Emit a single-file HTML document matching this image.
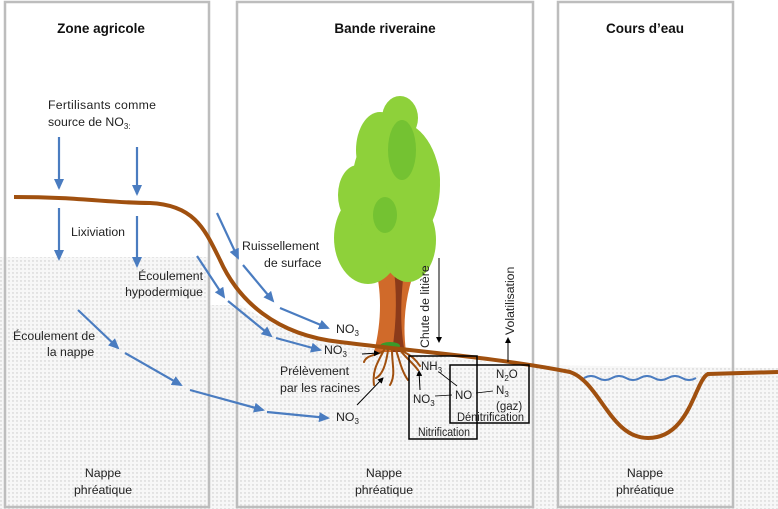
<!DOCTYPE html>
<html><head><meta charset="utf-8"><style>
html,body{margin:0;padding:0;background:#fff}
svg{display:block}
text{font-family:"Liberation Sans",sans-serif;font-size:12.3px;fill:#222}
.t{font-weight:bold;font-size:13.5px;fill:#111}
.b{font-size:11.5px}
</style></head><body>
<svg width="778" height="509" viewBox="0 0 778 509" xmlns="http://www.w3.org/2000/svg">
<defs>
<pattern id="dots" width="4" height="4" patternUnits="userSpaceOnUse">
<rect width="4" height="4" fill="#f7f7f7"/>
<circle cx="1" cy="1" r="0.7" fill="#c8c8c8"/>
</pattern>
<marker id="ab" markerWidth="11" markerHeight="10" refX="9" refY="5" orient="auto" markerUnits="userSpaceOnUse" viewBox="0 0 11 10"><path d="M0,0 L11,5 L0,10 z" fill="#4a7cc0"/></marker>
<marker id="ak" markerWidth="6" markerHeight="6" refX="5" refY="3" orient="auto" markerUnits="userSpaceOnUse" viewBox="0 0 6 6"><path d="M0,0 L6,3 L0,6 z" fill="#000"/></marker>
</defs>
<path d="M0,257 L210,257 L210,305 L240,305 C280,330 330,345 400,352 L520,365 L778,368 L778,509 L0,509 Z" fill="url(#dots)"/>
<g fill="none" stroke="#bdbdbd" stroke-width="2.5">
<rect x="5" y="2" width="204" height="505"/>
<rect x="237" y="2" width="296" height="505"/>
<rect x="558" y="2" width="175" height="505"/>
</g>
<text class="t" x="101" y="33" text-anchor="middle">Zone agricole</text>
<text class="t" x="385" y="33" text-anchor="middle">Bande riveraine</text>
<text class="t" x="645" y="33" text-anchor="middle">Cours d’eau</text>
<path d="M584,378 q7,-4 14,0 t14,0 t14,0 t14,0 t14,0 t14,0 t14,0 t14,0" fill="none" stroke="#4a7cc0" stroke-width="2"/>
<g>
<path d="M374,352 C382,320 382,290 374,262 L392,262 L398,275 L404,262 L418,262 C406,290 402,320 406,352 Z" fill="#d06a2a"/>
<path d="M393,262 L405,262 C400,300 400,330 405,352 L392,352 C397,320 397,290 393,262Z" fill="#8b3a1a"/>
<g fill="#8ed13a">
<ellipse cx="368" cy="238" rx="34" ry="46"/>
<ellipse cx="396" cy="185" rx="44" ry="64"/>
<ellipse cx="408" cy="240" rx="28" ry="42"/>
<ellipse cx="380" cy="150" rx="24" ry="38"/>
<ellipse cx="400" cy="118" rx="18" ry="22"/>
<ellipse cx="358" cy="195" rx="20" ry="30"/>
<ellipse cx="420" cy="180" rx="20" ry="34"/>
</g>
<g fill="#74c232">
<ellipse cx="402" cy="150" rx="14" ry="30"/>
<ellipse cx="385" cy="215" rx="12" ry="18"/>
</g>
<ellipse cx="390" cy="346" rx="10" ry="4" fill="#3a9a2a"/>
</g>
<g fill="none" stroke="#a0500f" stroke-width="2" stroke-linecap="round">
<path d="M384,350 C378,362 372,370 374,385"/>
<path d="M388,350 C386,365 382,375 376,378"/>
<path d="M392,350 C392,365 396,375 390,385"/>
<path d="M396,350 C400,362 402,372 408,380"/>
<path d="M400,350 C406,358 412,362 418,370"/>
<path d="M382,352 C372,356 366,356 364,362"/>
<path d="M404,352 C412,356 416,360 420,366"/>
</g>
<path d="M14,197 C80,197 110,203 150,203 C195,205 205,230 220,260 C238,300 275,335 340,342 C420,352 500,358 570,372 C600,382 610,438 648,438 C690,438 695,380 708,374 L778,372" fill="none" stroke="#a0500f" stroke-width="4"/>
<g stroke="#4a7cc0" stroke-width="2.2" fill="none" marker-end="url(#ab)">
<line x1="59" y1="137" x2="59" y2="188"/>
<line x1="137" y1="147" x2="137" y2="194"/>
<line x1="59" y1="208" x2="59" y2="259"/>
<line x1="137" y1="216" x2="137" y2="266"/>
<line x1="217" y1="213" x2="238" y2="258"/>
<line x1="243" y1="265" x2="273" y2="301"/>
<line x1="280" y1="308" x2="328" y2="328"/>
<line x1="197" y1="256" x2="224" y2="297"/>
<line x1="228" y1="301" x2="271" y2="336"/>
<line x1="276" y1="338" x2="320" y2="350"/>
<line x1="78" y1="310" x2="118" y2="348"/>
<line x1="125" y1="353" x2="181" y2="385"/>
<line x1="190" y1="390" x2="263" y2="410"/>
<line x1="267" y1="412" x2="328" y2="418"/>
</g>
<g stroke="#000" stroke-width="1" fill="none" marker-end="url(#ak)">
<line x1="362" y1="354" x2="379" y2="353"/>
<line x1="357" y1="405" x2="383" y2="378"/>
<line x1="420" y1="390" x2="419" y2="371"/>
<line x1="439" y1="258" x2="439" y2="342"/>
<line x1="508" y1="362" x2="508" y2="338"/>
</g>
<g stroke="#000" stroke-width="0.8">
<line x1="439" y1="372" x2="457" y2="386"/>
<line x1="435" y1="396" x2="452" y2="395"/>
<line x1="476" y1="393" x2="493" y2="391"/>
</g>
<rect x="409" y="356" width="68" height="83" fill="none" stroke="#000" stroke-width="1.5"/>
<rect x="450" y="365" width="79" height="58" fill="none" stroke="#000" stroke-width="1.5"/>
<text x="48" y="109" textLength="108">Fertilisants comme</text>
<text x="48" y="126">source de NO<tspan font-size="8" dy="3">3:</tspan></text>
<text x="71" y="236">Lixiviation</text>
<text x="203" y="280" text-anchor="end">Écoulement</text>
<text x="203" y="296" text-anchor="end">hypodermique</text>
<text x="13" y="340">Écoulement de</text>
<text x="47" y="356">la nappe</text>
<text x="242" y="250">Ruissellement</text>
<text x="264" y="267">de surface</text>
<text x="336" y="333">NO<tspan font-size="8" dy="3">3</tspan></text>
<text x="324" y="354">NO<tspan font-size="8" dy="3">3</tspan></text>
<text x="336" y="421">NO<tspan font-size="8" dy="3">3</tspan></text>
<text x="280" y="375">Prélèvement</text>
<text x="280" y="392">par les racines</text>
<text transform="translate(429,348) rotate(-90)">Chute de litière</text>
<text transform="translate(514,335) rotate(-90)">Volatilisation</text>
<text class="b" x="421" y="370">NH<tspan font-size="8" dy="3">3</tspan></text>
<text class="b" x="413" y="403">NO<tspan font-size="8" dy="3">3</tspan></text>
<text class="b" x="455" y="399">NO</text>
<text class="b" x="496" y="378">N<tspan font-size="8" dy="3">2</tspan><tspan dy="-3">O</tspan></text>
<text class="b" x="496" y="394">N<tspan font-size="8" dy="3">3</tspan></text>
<text class="b" x="496" y="410">(gaz)</text>
<text x="457" y="421" font-size="8" textLength="67" lengthAdjust="spacingAndGlyphs">Dénitrification</text>
<text x="418" y="436" font-size="8" textLength="52" lengthAdjust="spacingAndGlyphs">Nitrification</text>
<g text-anchor="middle">
<text x="103" y="477">Nappe</text><text x="103" y="494">phréatique</text>
<text x="384" y="477">Nappe</text><text x="384" y="494">phréatique</text>
<text x="645" y="477">Nappe</text><text x="645" y="494">phréatique</text>
</g>
</svg>
</body></html>
